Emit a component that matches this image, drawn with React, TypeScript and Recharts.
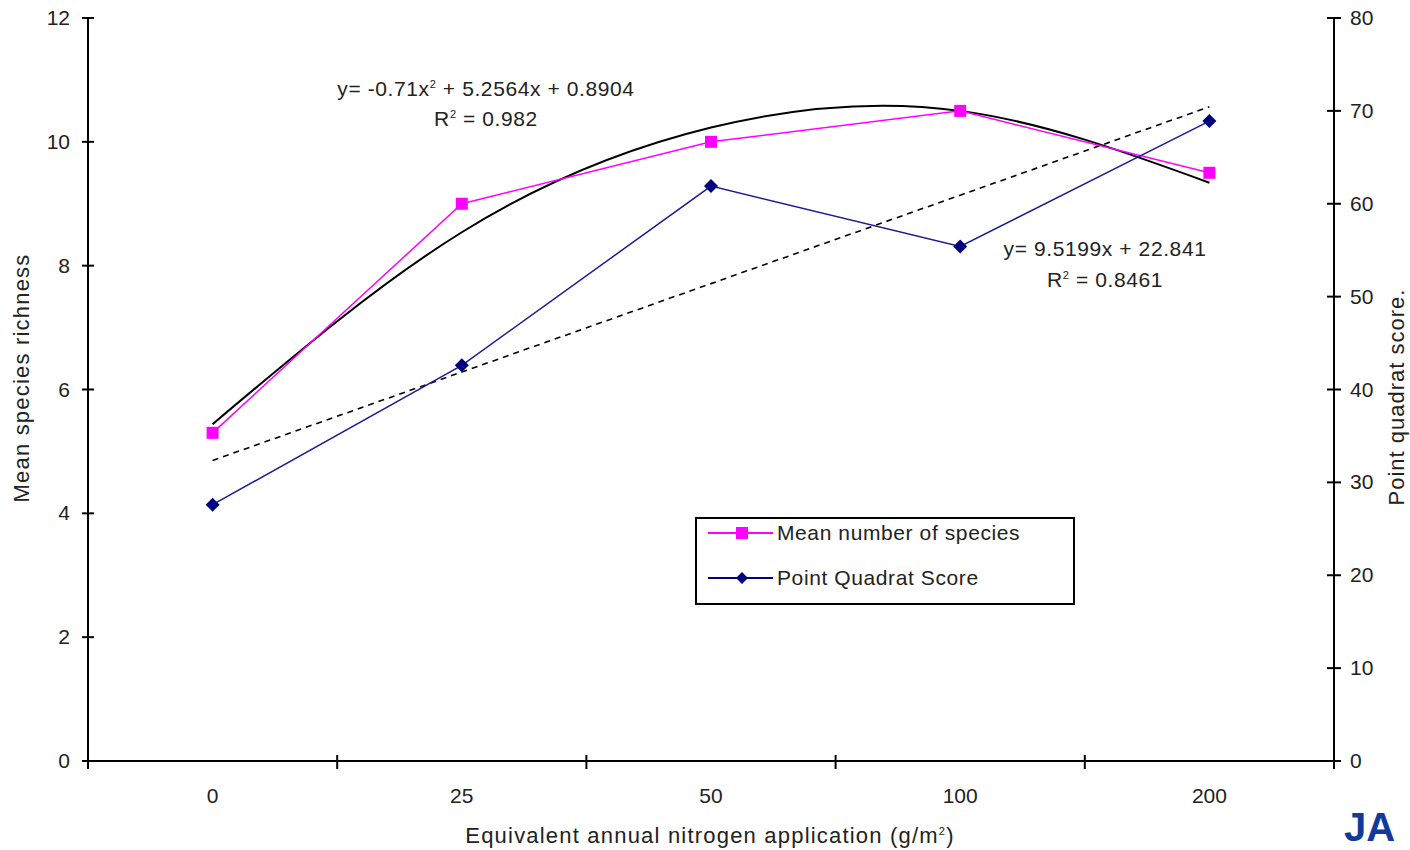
import { ComposedChart, Line, XAxis, YAxis } from 'recharts';

// nitrogen application categories (g/m2)
const categories = ['0', '25', '50', '100', '200'];
const meanSpecies = [5.3, 9.0, 10.0, 10.5, 9.5];
const quadratScore = [27.6, 42.6, 61.9, 55.4, 68.9];
// trendlines as drawn (poly on left axis, linear on right axis)
const polyTrend = [5.44, 8.54, 10.23, 10.5, 9.34];
const linearTrend = [32.36, 41.88, 51.4, 60.92, 70.44];

const leftTicks = [0, 2, 4, 6, 8, 10, 12];
const rightTicks = [0, 10, 20, 30, 40, 50, 60, 70, 80];

const data = categories.map((c, i) => ({
    n: c,
    species: meanSpecies[i],
    quadrat: quadratScore[i],
    poly: polyTrend[i],
    linear: linearTrend[i],
}));

const W = 1410;
const H = 850;
const PLOT_LEFT = 88;
const PLOT_RIGHT = 1334;
const BAND = (PLOT_RIGHT - PLOT_LEFT) / categories.length;
const FONT = '"Liberation Sans", Arial, sans-serif';
const TXT = '#222';
const TICK_FS = 21;

const LeftTick = (props: any) => {
    const { x, y, payload } = props;
    const ax = x + 18;
    return (
        <g>
            <line x1={ax - 6} x2={ax + 6} y1={y} y2={y} stroke="#000" strokeWidth={2} />
            <text x={x} y={y} dy={7} textAnchor="end" fill={TXT} fontSize={TICK_FS} fontFamily={FONT}>
                {payload.value}
            </text>
        </g>
    );
};

const RightTick = (props: any) => {
    const { x, y, payload } = props;
    const ax = x - 16;
    return (
        <g>
            <line x1={ax - 7} x2={ax + 7} y1={y} y2={y} stroke="#000" strokeWidth={2} />
            <text x={x} y={y} dy={7} textAnchor="start" fill={TXT} fontSize={TICK_FS} fontFamily={FONT}>
                {payload.value}
            </text>
        </g>
    );
};

const BottomTick = (props: any) => {
    const { x, y, payload, index } = props;
    const ay = y - 28;
    const left = x - BAND / 2;
    return (
        <g>
            <line x1={left} x2={left} y1={ay - 6} y2={ay + 8} stroke="#000" strokeWidth={2} />
            {index === categories.length - 1 && (
                <line x1={x + BAND / 2} x2={x + BAND / 2} y1={ay - 6} y2={ay + 8} stroke="#000" strokeWidth={2} />
            )}
            <text x={x} y={y} dy={14} textAnchor="middle" fill={TXT} fontSize={TICK_FS} fontFamily={FONT}>
                {payload.value}
            </text>
        </g>
    );
};

const SquareDot = (props: any) => {
    const { cx, cy, key } = props;
    return <rect key={key} x={cx - 6} y={cy - 6} width={12} height={12} fill="#ff00ff" />;
};

const DiamondDot = (props: any) => {
    const { cx, cy, key } = props;
    return (
        <polygon
            key={key}
            points={`${cx},${cy - 7} ${cx + 7},${cy} ${cx},${cy + 7} ${cx - 7},${cy}`}
            fill="#000080"
        />
    );
};

const LegendBox = () => (
    <div
        style={{
            position: 'absolute',
            left: 695,
            top: 517,
            border: '2px solid #000',
            width: 376,
            height: 84,
            boxSizing: 'content-box',
            background: '#fff',
            fontFamily: FONT,
            fontSize: 21,
            letterSpacing: 0.6,
            color: TXT,
        }}
    >
        <svg width={80} height={84} style={{ position: 'absolute', left: 0, top: 0 }}>
            <line x1={11} x2={76} y1={14} y2={14} stroke="#ff00ff" strokeWidth={2} />
            <rect x={39} y={8} width={12} height={12} fill="#ff00ff" />
            <line x1={11} x2={76} y1={59} y2={59} stroke="#000080" strokeWidth={2} />
            <polygon points="45,53 51,59 45,65 39,59" fill="#000080" />
        </svg>
        <div style={{ position: 'absolute', left: 80, top: 0, whiteSpace: 'nowrap', lineHeight: '28px' }}>Mean number of species</div>
        <div style={{ position: 'absolute', left: 80, top: 45, whiteSpace: 'nowrap', lineHeight: '28px' }}>Point Quadrat Score</div>
    </div>
);

const note = (left: number, top: number, text: any) => (
    <div
        style={{
            position: 'absolute',
            left,
            top,
            width: 400,
            textAlign: 'center',
            fontFamily: FONT,
            fontSize: 21,
            letterSpacing: 0.6,
            color: TXT,
            lineHeight: '30px',
            whiteSpace: 'nowrap',
        }}
    >
        {text}
    </div>
);

const sup = { fontSize: 11, position: 'relative', top: -8 } as const;

const axisTitle = {
    position: 'absolute',
    fontFamily: FONT,
    fontSize: 22,
    letterSpacing: 1.2,
    color: TXT,
    whiteSpace: 'nowrap',
} as const;

export default function App() {
    return (
        <div style={{ position: 'absolute', left: 0, top: 0, width: W, height: H, background: '#fff', overflow: 'hidden' }}>
            <ComposedChart
                width={W}
                height={H}
                data={data}
                margin={{ top: 18, right: 16, left: 28, bottom: 49 }}
            >
                <XAxis
                    dataKey="n"
                    height={40}
                    padding={{ left: BAND / 2, right: BAND / 2 }}
                    axisLine={{ stroke: '#000', strokeWidth: 2 }}
                    tickLine={false}
                    tickSize={0}
                    tickMargin={28}
                    tick={<BottomTick />}
                    interval={0}
                />
                <YAxis
                    yAxisId="left"
                    width={60}
                    domain={[0, 12]}
                    ticks={leftTicks}
                    axisLine={{ stroke: '#000', strokeWidth: 2 }}
                    tickLine={false}
                    tickSize={0}
                    tickMargin={18}
                    tick={<LeftTick />}
                />
                <YAxis
                    yAxisId="right"
                    orientation="right"
                    width={60}
                    domain={[0, 80]}
                    ticks={rightTicks}
                    axisLine={{ stroke: '#000', strokeWidth: 2 }}
                    tickLine={false}
                    tickSize={0}
                    tickMargin={16}
                    tick={<RightTick />}
                />
                <Line
                    yAxisId="left"
                    dataKey="poly"
                    type="natural"
                    stroke="#000"
                    strokeWidth={2}
                    dot={false}
                    isAnimationActive={false}
                />
                <Line
                    yAxisId="right"
                    dataKey="linear"
                    type="linear"
                    stroke="#000"
                    strokeWidth={1.6}
                    strokeDasharray="6 5"
                    dot={false}
                    isAnimationActive={false}
                />
                <Line
                    yAxisId="left"
                    dataKey="species"
                    type="linear"
                    stroke="#ff00ff"
                    strokeWidth={1.5}
                    dot={<SquareDot />}
                    isAnimationActive={false}
                />
                <Line
                    yAxisId="right"
                    dataKey="quadrat"
                    type="linear"
                    stroke="#1c1c94"
                    strokeWidth={1.5}
                    dot={<DiamondDot />}
                    isAnimationActive={false}
                />
            </ComposedChart>

            <LegendBox />

            {note(286, 74, <>y= -0.71x<span style={sup}>2</span> + 5.2564x + 0.8904</>)}
            {note(286, 104, <>R<span style={sup}>2</span> = 0.982</>)}
            {note(905, 234, <>y= 9.5199x + 22.841</>)}
            {note(905, 265, <>R<span style={sup}>2</span> = 0.8461</>)}

            <div style={{ ...axisTitle, left: 22, top: 378, transform: 'translate(-50%, -50%) rotate(-90deg)' }}>
                Mean species richness
            </div>
            <div style={{ ...axisTitle, left: 1397, top: 397, letterSpacing: 1, transform: 'translate(-50%, -50%) rotate(-90deg)' }}>
                Point quadrat score.
            </div>
            <div style={{ ...axisTitle, left: 710, top: 836, transform: 'translate(-50%, -50%)' }}>
                Equivalent annual nitrogen application (g/m<span style={sup}>2</span>)
            </div>
            <div
                style={{
                    position: 'absolute', left: 1344, top: 806, fontFamily: FONT, fontSize: 40,
                    fontWeight: 'bold', color: '#13399a', whiteSpace: 'nowrap', lineHeight: '42px',
                }}
            >
                JA
            </div>
        </div>
    );
}
